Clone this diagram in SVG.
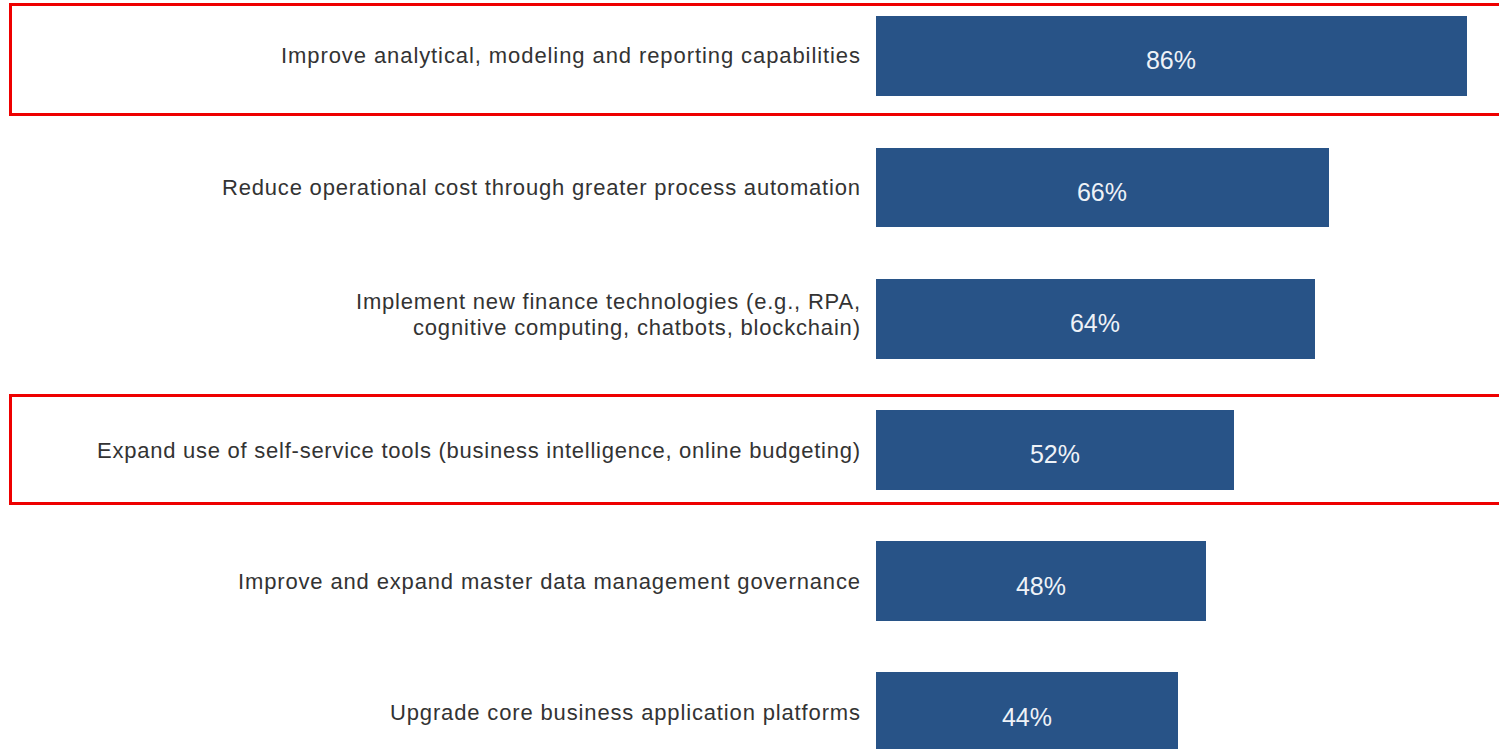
<svg xmlns="http://www.w3.org/2000/svg" width="1499" height="749" viewBox="0 0 1499 749">
<style>
.lbl{font-family:"Liberation Sans",Arial,sans-serif;font-size:22px;fill:#333;text-anchor:end}
.bar{fill:#285387}
.pct{font-family:"Liberation Sans",Arial,sans-serif;font-size:25px;fill:#eef2f7;text-anchor:middle}
.hl{fill:none;stroke:#ee0000;stroke-width:3}
</style>
<rect width="1499" height="749" fill="#ffffff"/>
<g id="row1"><text class="lbl" x="860" y="63" textLength="579" lengthAdjust="spacing">Improve analytical, modeling and reporting capabilities</text><rect class="bar" x="876" y="16" width="591" height="80"/><text class="pct" x="1171" y="69">86%</text></g>
<g id="row2"><text class="lbl" x="860" y="195" textLength="638" lengthAdjust="spacing">Reduce operational cost through greater process automation</text><rect class="bar" x="876" y="148" width="453" height="79"/><text class="pct" x="1102" y="201">66%</text></g>
<g id="row3"><text class="lbl" x="860" y="309" textLength="504" lengthAdjust="spacing">Implement new finance technologies (e.g., RPA,</text><text class="lbl" x="860" y="335" textLength="447" lengthAdjust="spacing">cognitive computing, chatbots, blockchain)</text><rect class="bar" x="876" y="279" width="439" height="80"/><text class="pct" x="1095" y="332">64%</text></g>
<g id="row4"><text class="lbl" x="860" y="458" textLength="763" lengthAdjust="spacing">Expand use of self-service tools (business intelligence, online budgeting)</text><rect class="bar" x="876" y="410" width="358" height="80"/><text class="pct" x="1055" y="463">52%</text></g>
<g id="row5"><text class="lbl" x="860" y="589" textLength="622" lengthAdjust="spacing">Improve and expand master data management governance</text><rect class="bar" x="876" y="541" width="330" height="80"/><text class="pct" x="1041" y="595">48%</text></g>
<g id="row6"><text class="lbl" x="860" y="720" textLength="470" lengthAdjust="spacing">Upgrade core business application platforms</text><rect class="bar" x="876" y="672" width="302" height="77"/><text class="pct" x="1027" y="726">44%</text></g>
<g id="highlights"><rect class="hl" x="10.5" y="4.5" width="1492" height="110"/><rect class="hl" x="10.5" y="395.5" width="1492" height="108"/></g>
</svg>
